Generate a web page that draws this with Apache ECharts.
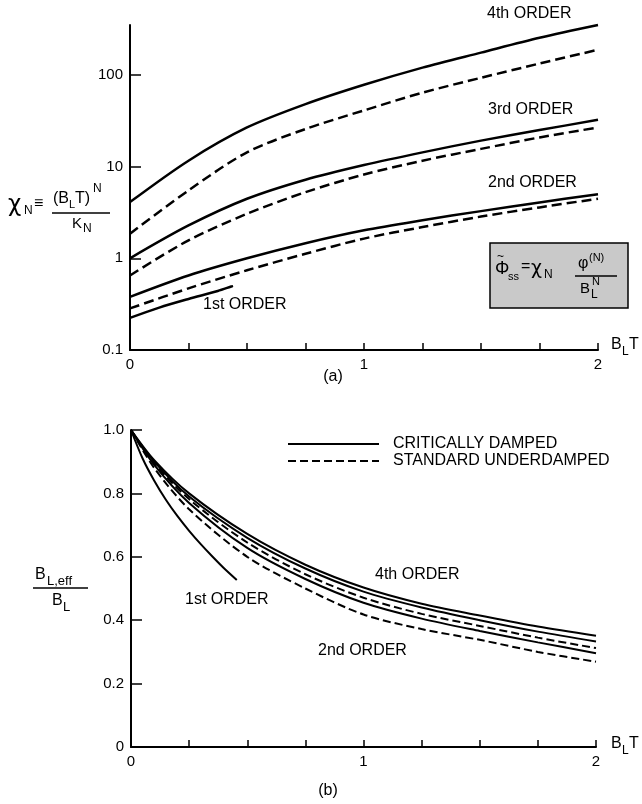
<!DOCTYPE html>
<html>
<head>
<meta charset="utf-8">
<script src="https://cdn.jsdelivr.net/npm/echarts@6/dist/echarts.min.js"></script>
<style>
html,body{margin:0;padding:0;background:#fff;}
#chart{width:642px;height:804px;}
</style>
</head>
<body>
<div id="chart"></div>
<script>
// ---------- data: panel (a) chi_N vs B_L T (log scale) ----------
const tTop = [0, 0.25, 0.5, 0.75, 1, 1.25, 1.5, 1.75, 2];
const top4Crit  = [4.1, 11.6, 26.7, 48, 78, 120, 175, 254, 350];
const top4Under = [1.85, 5.5, 14.3, 25.7, 41, 64, 93, 133, 188];
const top3Crit  = [1.0, 2.28, 4.46, 7.2, 10.4, 14.3, 19.2, 25, 32.4];
const top3Under = [0.65, 1.57, 3.06, 5.26, 8.2, 11.6, 15.6, 20.8, 26.7];
const top2Crit  = [0.38, 0.65, 1.0, 1.46, 2.02, 2.6, 3.27, 4.07, 5.0];
const top2Under = [0.284, 0.47, 0.74, 1.12, 1.64, 2.19, 2.85, 3.59, 4.46];
const tTop1st   = [0, 0.125, 0.25, 0.375, 0.44];
const top1st    = [0.224, 0.29, 0.36, 0.44, 0.50];
const topYTicks = [0.1, 1, 10, 100];

// ---------- data: panel (b) B_L,eff / B_L vs B_L T ----------
const tBot = [0, 0.1, 0.25, 0.5, 0.75, 1, 1.25, 1.5, 1.75, 2];
const bot4Crit   = [1, 0.905, 0.80, 0.672, 0.575, 0.503, 0.452, 0.415, 0.38, 0.351];
const bot3Crit   = [1, 0.90, 0.79, 0.66, 0.563, 0.49, 0.44, 0.40, 0.364, 0.333];
const botUnder34 = [1, 0.895, 0.782, 0.645, 0.545, 0.471, 0.42, 0.382, 0.345, 0.312];
const bot2Crit   = [1, 0.89, 0.77, 0.628, 0.53, 0.455, 0.405, 0.366, 0.33, 0.296];
const bot2Under  = [1, 0.88, 0.75, 0.60, 0.50, 0.418, 0.372, 0.338, 0.30, 0.269];
const tBot1st    = [0, 0.05, 0.1, 0.15, 0.2, 0.25, 0.3, 0.35, 0.4, 0.455];
const bot1st     = [1, 0.91, 0.84, 0.78, 0.728, 0.682, 0.64, 0.601, 0.564, 0.527];

const CRIT = 'CRITICALLY DAMPED';
const UNDER = 'STANDARD UNDERDAMPED';
const FONT = 'Liberation Sans, Arial, Helvetica, sans-serif';

function pairs(xs, ys) { return xs.map((x, i) => [x, ys[i]]); }

function ser(name, xs, ys, grid, dashed, w, dash) {
  return {
    name: name, type: 'line', xAxisIndex: grid, yAxisIndex: grid,
    data: pairs(xs, ys), showSymbol: false, symbol: 'none', smooth: 0.3,
    clip: false, silent: true,
    itemStyle: { color: '#000' },
    lineStyle: { color: '#000', width: w, type: dashed ? dash : 'solid', cap: 'butt' }
  };
}

function txt(s, x, y, size, extra) {
  return {
    type: 'text', x: x, y: y, silent: true,
    style: Object.assign({ text: s, fontSize: size, fontFamily: FONT, fill: '#000',
      align: 'left', verticalAlign: 'middle' }, (extra || {}))
  };
}
function ln(x1, y1, x2, y2, w) {
  return { type: 'line', silent: true, shape: { x1, y1, x2, y2 }, style: { stroke: '#000', lineWidth: w || 1.5 } };
}

const axisLineStyle = { show: true, lineStyle: { color: '#000', width: 2 } };
function xAx(grid) {
  return {
    gridIndex: grid, type: 'value', min: 0, max: 2, interval: 0.25,
    axisLine: axisLineStyle,
    axisTick: { show: true, inside: true, length: 7, lineStyle: { color: '#000', width: 1.5 } },
    axisLabel: { color: '#000', fontSize: 15, fontFamily: FONT, margin: 7,
      formatter: v => (Math.abs(v - Math.round(v)) < 1e-9 ? String(Math.round(v)) : '') },
    splitLine: { show: false }
  };
}

const option = {
  animation: false,
  backgroundColor: '#fff',
  grid: [
    { left: 130, top: 25, width: 468, height: 325 },
    { left: 131, top: 430, width: 465, height: 317 }
  ],
  xAxis: [xAx(0), xAx(1)],
  yAxis: [
    {
      gridIndex: 0, type: 'log', logBase: 10, min: 0.1, max: 350,
      axisLine: axisLineStyle,
      axisTick: { show: true, inside: true, length: 11, customValues: topYTicks,
        lineStyle: { color: '#000', width: 1.5 } },
      axisLabel: { color: '#000', fontSize: 15, fontFamily: FONT, margin: 7, customValues: topYTicks,
        formatter: v => { const m = { '0.1': '0.1', '1': '1', '10': '10', '100': '100' }; return m[String(+(+v).toPrecision(6))] || ''; } },
      splitLine: { show: false }
    },
    {
      gridIndex: 1, type: 'value', min: 0, max: 1, interval: 0.2,
      axisLine: axisLineStyle,
      axisTick: { show: true, inside: true, length: 11, lineStyle: { color: '#000', width: 1.5 } },
      axisLabel: { color: '#000', fontSize: 15, fontFamily: FONT, margin: 7,
        formatter: v => (v === 0 ? '0' : v.toFixed(1)) },
      splitLine: { show: false }
    }
  ],
  legend: {
    orient: 'vertical', left: 282, top: 431, itemWidth: 91, itemHeight: 12, itemGap: 1,
    selectedMode: false,
    data: [CRIT, UNDER],
    itemStyle: { color: 'rgba(0,0,0,0)', borderWidth: 0, opacity: 0 },
    textStyle: { color: '#000', fontSize: 16, fontFamily: FONT, padding: [0, 0, 0, 9] }
  },
  series: [
    // panel (b) first so that legend icons take its styles
    ser(CRIT, tBot, bot4Crit, 1, false, 2),
    ser(UNDER, tBot, botUnder34, 1, true, 2, [8, 4]),
    ser(CRIT, tBot, bot3Crit, 1, false, 2),
    ser(CRIT, tBot, bot2Crit, 1, false, 2),
    ser(UNDER, tBot, bot2Under, 1, true, 2, [8, 4]),
    ser(CRIT, tBot1st, bot1st, 1, false, 2),
    // panel (a)
    ser(CRIT, tTop, top4Crit, 0, false, 2.5),
    ser(UNDER, tTop, top4Under, 0, true, 2.5, [10, 5]),
    ser(CRIT, tTop, top3Crit, 0, false, 2.5),
    ser(UNDER, tTop, top3Under, 0, true, 2.5, [10, 5]),
    ser(CRIT, tTop, top2Crit, 0, false, 2.5),
    ser(UNDER, tTop, top2Under, 0, true, 2.5, [10, 5]),
    ser(CRIT, tTop1st, top1st, 0, false, 2.5)
  ],
  graphic: [
    // panel (a) curve labels
    txt('4th ORDER', 487, 14, 16),
    txt('3rd ORDER', 488, 110, 16),
    txt('2nd ORDER', 488, 183, 16),
    txt('1st ORDER', 203, 305, 16),
    // panel (b) curve labels
    txt('4th ORDER', 375, 575, 16),
    txt('2nd ORDER', 318, 651, 16),
    txt('1st ORDER', 185, 600, 16),
    // x axis names
    txt('B', 611, 345, 16), txt('L', 622, 352, 12), txt('T', 629, 345, 16),
    txt('B', 611, 744, 16), txt('L', 622, 751, 12), txt('T', 629, 744, 16),
    // panel captions
    txt('(a)', 333, 377, 16, { align: 'center' }),
    txt('(b)', 328, 791, 16, { align: 'center' }),
    // y title (a): chi_N = (B_L T)^N / K_N
    txt('χ', 8, 205, 23, { fontFamily: 'DejaVu Sans' }), txt('N', 24, 211, 12), txt('≡', 34, 204, 16),
    txt('(B', 53, 199, 16), txt('L', 69, 205, 11), txt('T)', 75, 199, 16), txt('N', 93, 189, 12),
    ln(52, 213, 110, 213, 1.3),
    txt('K', 72, 224, 15), txt('N', 83, 229, 12),
    // y title (b): B_L,eff / B_L
    txt('B', 35, 575, 16), txt('L,eff', 47, 581, 13),
    ln(33, 588, 88, 588, 1.3),
    txt('B', 52, 601, 16), txt('L', 63, 607, 13),
    // formula box
    { type: 'rect', silent: true, shape: { x: 490, y: 243, width: 138, height: 65 },
      style: { fill: '#c9c9c9', stroke: '#000', lineWidth: 1.5 } },
    txt('~', 497, 257, 12), txt('Φ', 495, 269, 18), txt('ss', 508, 277, 11),
    txt('=', 521, 267, 16), txt('χ', 531, 269, 19, { fontFamily: 'DejaVu Sans' }), txt('N', 544, 275, 12),
    txt('φ', 578, 264, 16), txt('(N)', 589, 258, 11),
    ln(575, 276, 617, 276, 1.3),
    txt('B', 580, 289, 15), txt('L', 591, 295, 12), txt('N', 592, 282, 11)
  ]
};

const chart = echarts.init(document.getElementById('chart'), null, { renderer: 'canvas' });
chart.setOption(option);
</script>
</body>
</html>
